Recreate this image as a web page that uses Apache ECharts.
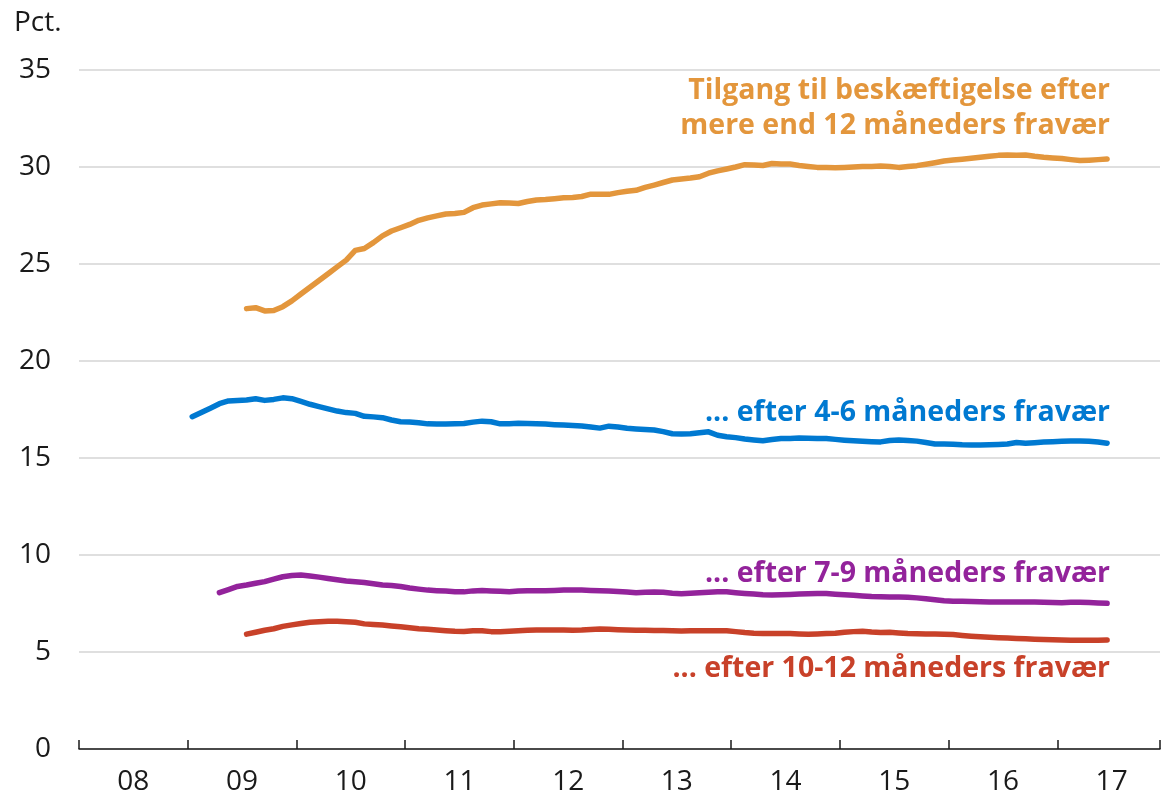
<!DOCTYPE html>
<html>
<head>
<meta charset="utf-8">
<title>Tilgang til beskæftigelse</title>
<script src="https://cdn.jsdelivr.net/npm/echarts@6/dist/echarts.min.js"></script>
<style>
  html, body { margin: 0; padding: 0; background: #fff; }
  #chart { width: 1163px; height: 799px; }
</style>
</head>
<body>
<div id="chart"></div>
<script>
// months Jan 2009 .. Jun 2017 (monthly observations)
const months = [];
for (let y = 2009; y <= 2017; y++) {
  for (let m = 1; m <= 12; m++) {
    if (y === 2017 && m > 6) break;
    months.push(y + "-" + String(m).padStart(2, "0"));
  }
}

const yearLabels = ["08", "09", "10", "11", "12", "13", "14", "15", "16", "17"];

// mere end 12 måneders fravær (from Jul 2009)
const over12 = [
  null, null, null, null, null, null,
  22.7, 22.75, 22.58, 22.6, 22.8, 23.1,
  23.45, 23.8, 24.15, 24.5, 24.85, 25.2, 25.7, 25.8, 26.1, 26.45, 26.7, 26.87,
  27.04, 27.25, 27.38, 27.48, 27.58, 27.6, 27.66, 27.9, 28.04, 28.1, 28.16, 28.14,
  28.12, 28.22, 28.3, 28.32, 28.36, 28.41, 28.43, 28.48, 28.6, 28.6, 28.59, 28.68,
  28.75, 28.8, 28.95, 29.07, 29.2, 29.33, 29.38, 29.43, 29.5, 29.68, 29.8, 29.9,
  30.0, 30.12, 30.1, 30.08, 30.18, 30.15, 30.15, 30.08, 30.03, 29.98, 29.97, 29.96,
  29.98, 30.0, 30.02, 30.03, 30.05, 30.03, 29.98, 30.02, 30.07, 30.14, 30.22, 30.31,
  30.36, 30.4, 30.45, 30.5, 30.55, 30.6, 30.62, 30.6, 30.62, 30.55, 30.5, 30.47,
  30.44, 30.38, 30.33, 30.35, 30.38, 30.41
];

// 4-6 måneders fravær (from Jan 2009)
const m4to6 = [
  17.13, 17.35, 17.57, 17.8, 17.94, 17.97, 17.99, 18.05, 17.97, 18.02, 18.1, 18.06,
  17.92, 17.77, 17.65, 17.53, 17.42, 17.34, 17.3, 17.15, 17.12, 17.08, 16.96, 16.87,
  16.85, 16.82, 16.76, 16.75, 16.75, 16.76, 16.78, 16.85, 16.9, 16.87, 16.76, 16.77,
  16.79, 16.78, 16.77, 16.75, 16.72, 16.7, 16.68, 16.65, 16.6, 16.54, 16.64, 16.6,
  16.53, 16.5, 16.47, 16.44, 16.36, 16.25, 16.24, 16.25, 16.3, 16.35, 16.17, 16.1,
  16.05, 15.98, 15.93, 15.89, 15.95, 16.0, 16.01, 16.03, 16.02, 16.01, 16.0, 15.96,
  15.92, 15.89, 15.86, 15.84, 15.83, 15.9, 15.93, 15.9, 15.87, 15.8, 15.72, 15.72,
  15.71, 15.68, 15.67, 15.67, 15.68, 15.7, 15.72, 15.8, 15.76, 15.79, 15.82, 15.84,
  15.86, 15.88, 15.87, 15.86, 15.82, 15.76
];

// 7-9 måneders fravær (from Apr 2009)
const m7to9 = [
  null, null, null,
  8.06, 8.22, 8.38, 8.45, 8.54, 8.63, 8.76, 8.88, 8.94,
  8.97, 8.92, 8.86, 8.79, 8.72, 8.66, 8.62, 8.58, 8.52, 8.45, 8.43, 8.38,
  8.3, 8.24, 8.19, 8.16, 8.14, 8.11, 8.1, 8.15, 8.17, 8.15, 8.13, 8.11,
  8.15, 8.16, 8.16, 8.16, 8.17, 8.19, 8.2, 8.19, 8.17, 8.16, 8.15, 8.12,
  8.09, 8.06, 8.08, 8.09, 8.08, 8.03, 8.0, 8.03, 8.06, 8.08, 8.1, 8.1,
  8.06, 8.02, 7.99, 7.95, 7.94, 7.95, 7.97, 7.99, 8.0, 8.01, 8.02, 7.98,
  7.95, 7.93, 7.89, 7.86, 7.85, 7.84, 7.83, 7.82, 7.79, 7.74, 7.69, 7.64,
  7.62, 7.61, 7.6, 7.59, 7.58, 7.58, 7.58, 7.58, 7.58, 7.58, 7.57, 7.55,
  7.54, 7.56, 7.57, 7.55, 7.53, 7.51
];

// 10-12 måneders fravær (from Jul 2009)
const m10to12 = [
  null, null, null, null, null, null,
  5.92, 6.02, 6.12, 6.2, 6.32, 6.4,
  6.47, 6.53, 6.56, 6.58, 6.58, 6.56, 6.53, 6.45, 6.42, 6.39, 6.34, 6.3,
  6.25, 6.2, 6.17, 6.14, 6.1, 6.07, 6.06, 6.09, 6.09, 6.05, 6.04, 6.07,
  6.1, 6.12, 6.13, 6.13, 6.13, 6.13, 6.12, 6.13, 6.16, 6.18, 6.17, 6.15,
  6.13, 6.12, 6.12, 6.11, 6.11, 6.09, 6.08, 6.1, 6.1, 6.1, 6.1, 6.09,
  6.05, 6.0, 5.97, 5.96, 5.96, 5.96, 5.95, 5.93, 5.92, 5.93, 5.95, 5.97,
  6.02, 6.05, 6.07, 6.03, 6.01, 6.02, 5.98, 5.95, 5.94, 5.93, 5.93, 5.92,
  5.9, 5.85, 5.81, 5.78, 5.76, 5.74, 5.72, 5.7, 5.68, 5.66, 5.64, 5.63,
  5.62, 5.61, 5.6, 5.6, 5.61, 5.62
];

const FONT = "'Open Sans', Lato, sans-serif";
const colors = {
  over12: "#E3963C",
  m4to6: "#0079D1",
  m7to9: "#93239B",
  m10to12: "#C84129",
};

// axis runs from Jan 2008 to the right edge (just short of 2018)
const X_MIN = 2008;
const X_MAX = 2017.945;

// month "YYYY-MM" -> decimal year at mid-month
const toYear = (s) => {
  const [y, m] = s.split("-").map(Number);
  return y + (m - 0.5) / 12;
};

const toPairs = (vals) =>
  months
    .map((m, i) => [toYear(m), vals[i]])
    .filter((p) => p[1] !== null && p[1] !== undefined);

const lineSeries = (name, vals, color) => ({
  name: name,
  type: "line",
  xAxisIndex: 0,
  data: toPairs(vals),
  showSymbol: false,
  symbol: "none",
  silent: true,
  lineStyle: { color: color, width: 5.5, cap: "round", join: "round" },
  animation: false,
});

const chart = echarts.init(document.getElementById("chart"));

chart.setOption({
  animation: false,
  grid: { left: 79, right: 0, top: 70, bottom: 50, containLabel: false },
  xAxis: [
    {
      type: "value",
      min: X_MIN,
      max: X_MAX,
      interval: 1,
      position: "bottom",
      axisLine: { show: true, lineStyle: { color: "#1a1a1a", width: 1.5 } },
      axisTick: { show: true, inside: true, length: 9, lineStyle: { color: "#1a1a1a", width: 1.5 } },
      axisLabel: { show: false },
      splitLine: { show: false },
    },
    {
      type: "value",
      min: X_MIN,
      max: X_MAX,
      interval: 0.5,
      position: "bottom",
      axisLine: { show: false },
      axisTick: { show: false },
      splitLine: { show: false },
      axisLabel: {
        show: true,
        margin: 19,
        fontFamily: FONT,
        fontSize: 28,
        color: "#1a1a1a",
        formatter: (v) => {
          if (Math.abs(v % 1 - 0.5) > 0.01) return "";
          return yearLabels[Math.floor(v) - 2008] || "";
        },
      },
    },
  ],
  yAxis: {
    type: "value",
    min: 0,
    max: 35,
    interval: 5,
    axisLine: { show: false },
    axisTick: { show: false },
    axisLabel: { margin: 28, fontFamily: FONT, fontSize: 28, color: "#1a1a1a" },
    splitLine: { show: true, lineStyle: { color: "#d4d4d4", width: 1.5 } },
  },
  graphic: [
    {
      type: "text",
      x: 14,
      y: 23,
      style: { text: "Pct.", font: "28px " + FONT, fill: "#1a1a1a", verticalAlign: "middle" },
    },
    {
      type: "text",
      x: 1110,
      y: 108,
      style: {
        text: "Tilgang til beskæftigelse efter\nmere end 12 måneders fravær",
        font: "bold 28.5px " + FONT,
        lineHeight: 35,
        fill: colors.over12,
        align: "right",
        verticalAlign: "middle",
      },
    },
    {
      type: "text",
      x: 1110,
      y: 413,
      style: { text: "... efter 4-6 måneders fravær", font: "bold 28.5px " + FONT, fill: colors.m4to6, align: "right", verticalAlign: "middle" },
    },
    {
      type: "text",
      x: 1110,
      y: 574,
      style: { text: "... efter 7-9 måneders fravær", font: "bold 28.5px " + FONT, fill: colors.m7to9, align: "right", verticalAlign: "middle" },
    },
    {
      type: "text",
      x: 1110,
      y: 669,
      style: { text: "... efter 10-12 måneders fravær", font: "bold 28.5px " + FONT, fill: colors.m10to12, align: "right", verticalAlign: "middle" },
    },
  ],
  series: [
    lineSeries("mere end 12 måneder", over12, colors.over12),
    lineSeries("4-6 måneder", m4to6, colors.m4to6),
    lineSeries("7-9 måneder", m7to9, colors.m7to9),
    lineSeries("10-12 måneder", m10to12, colors.m10to12),
  ],
});
</script>
</body>
</html>
